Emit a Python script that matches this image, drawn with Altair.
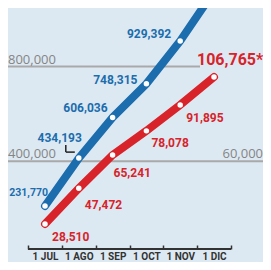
import altair as alt
import pandas as pd

# ---- data ----
months = ["1 JUL", "1 AGO", "1 SEP", "1 OCT", "1 NOV", "1 DIC"]
blue_values = [231770, 434193, 606036, 748315, 929392, 1140000]
blue_labels = ["231,770", "434,193", "606,036", "748,315", "929,392", ""]
red_values = [28510, 47472, 65241, 78078, 91895, 106765]
red_labels = ["28,510", "47,472", "65,241", "78,078", "91,895", "106,765*"]
grid_values = [800000, 400000]
grid_labels = ["800,000", "400,000"]
grid_right_label = "60,000"

BLUE = "#1b6dad"
RED = "#d8232a"
BG = "#dde9f2"
GRID = "#a9a9a9"
DARK = "#333333"
FONT = "Roboto, Liberation Sans, sans-serif"
GFONT = "Open Sans, DejaVu Sans, sans-serif"

W, H = 255, 254
xs = alt.Scale(domain=[-1.0947, 6.4497], nice=False, zero=False)
ysb = alt.Scale(domain=[-5074, 1068900], nice=False, zero=False)
ysr = alt.Scale(domain=[8253, 143504], nice=False, zero=False)

n = len(months)
df_blue = pd.DataFrame({"i": list(range(n)), "v": blue_values, "lab": blue_labels})
df_red = pd.DataFrame({"i": list(range(n)), "v": red_values, "lab": red_labels})
df_grid = pd.DataFrame({"v": grid_values, "lab": grid_labels})

tick_vals = sorted([i - 0.5 for i in range(n + 1)] + list(range(n)))
month_arr = "[" + ",".join("'" + m + "'" for m in months) + "]"
x_axis = alt.Axis(
    values=tick_vals, domain=False, grid=False, title=None,
    tickSize=4, tickWidth=1.5, tickColor=DARK,
    tickOpacity={"condition": {"test": "datum.value % 1 !== 0", "value": 1}, "value": 0},
    labelExpr="datum.value % 1 === 0 ? " + month_arr + "[datum.value] : ''",
    labelFont=FONT, labelFontSize=10, labelFontWeight="bold", labelColor=DARK,
    labelPadding=2, labelBaseline="top", labelOverlap=False, labelFlush=False,
    offset=-17,
)


def X():
    return alt.X("i:Q", scale=xs, axis=x_axis)


# gridlines (blue scale)
grid800 = alt.Chart(df_grid.iloc[[0]]).mark_rule(color=GRID, strokeWidth=2, yOffset=-5).encode(
    y=alt.Y("v:Q", scale=ysb, axis=None), x=alt.value(0), x2=alt.value(192))
grid400 = alt.Chart(df_grid.iloc[[1]]).mark_rule(color=GRID, strokeWidth=2, yOffset=-5).encode(
    y=alt.Y("v:Q", scale=ysb, axis=None), x=alt.value(0), x2=alt.value(255))
grid_text = alt.Chart(df_grid).mark_text(
    font=GFONT, fontSize=13, color="#858585", align="left", baseline="alphabetic", dy=-8, dx=0
).encode(y=alt.Y("v:Q", scale=ysb, axis=None), x=alt.value(0), text="lab:N")
grid_text_r = alt.Chart(df_grid.iloc[[1]]).mark_text(
    font=GFONT, fontSize=13, color="#858585", align="right", baseline="alphabetic", dy=-8
).encode(y=alt.Y("v:Q", scale=ysb, axis=None), x=alt.value(255), text=alt.value(grid_right_label))

blue_line = alt.Chart(df_blue).mark_line(color=BLUE, strokeWidth=8, strokeCap="round", clip=True).encode(
    x=X(), y=alt.Y("v:Q", scale=ysb, axis=None))
blue_pts = alt.Chart(df_blue).mark_point(filled=True, color="white", opacity=1, size=30, clip=True).encode(
    x=X(), y=alt.Y("v:Q", scale=ysb, axis=None))

blue_off = [(3, -10, 10.5), (3, -16, 12), (-5, -5, 12), (-9, 0, 12), (-9, -3, 12)]
blue_texts = []
for k, (dx, dy, fs) in enumerate(blue_off):
    blue_texts.append(
        alt.Chart(df_blue).transform_filter(alt.datum.i == k).mark_text(
            font=FONT, fontSize=fs, fontWeight="bold", color=BLUE, align="right",
            baseline="alphabetic", dx=dx, dy=dy
        ).encode(x=X(), y=alt.Y("v:Q", scale=ysb, axis=None), text="lab:N"))

# small leader for 434,193
lead_v = alt.Chart(df_blue).transform_filter(alt.datum.i == 1).mark_rule(
    color="#222222", strokeWidth=1.5, xOffset=-13, yOffset=-13, y2Offset=-6).encode(
    x=X(), y=alt.Y("v:Q", scale=ysb, axis=None), y2="v:Q")
lead_h = alt.Chart(df_blue).transform_filter(alt.datum.i == 1).mark_rule(
    color="#222222", strokeWidth=1.5, xOffset=-13, x2Offset=-4, yOffset=-6).encode(
    x=X(), x2="i:Q", y=alt.Y("v:Q", scale=ysb, axis=None))

blue_layer = alt.layer(grid800, grid400, grid_text, grid_text_r, blue_line, blue_pts, lead_v, lead_h, *blue_texts)

red_line = alt.Chart(df_red).mark_line(color=RED, strokeWidth=8, strokeCap="round", clip=True).encode(
    x=X(), y=alt.Y("v:Q", scale=ysr, axis=None))
red_pts = alt.Chart(df_red).mark_point(filled=True, color="white", opacity=1, size=30, clip=True).encode(
    x=X(), y=alt.Y("v:Q", scale=ysr, axis=None))
red_off = [(7, 17), (6, 21), (1, 22), (5, 16), (6, 17)]
red_texts = []
for k, (dx, dy) in enumerate(red_off):
    red_texts.append(
        alt.Chart(df_red).transform_filter(alt.datum.i == k).mark_text(
            font=FONT, fontSize=12, fontWeight="bold", color=RED, align="left",
            baseline="alphabetic", dx=dx, dy=dy
        ).encode(x=X(), y=alt.Y("v:Q", scale=ysr, axis=None), text="lab:N"))
red_big = alt.Chart(df_red).transform_filter(alt.datum.i == n - 1).mark_text(
    font=FONT, fontSize=16, fontWeight="bold", color=RED, align="left",
    baseline="alphabetic", dx=-17, dy=-12
).encode(x=X(), y=alt.Y("v:Q", scale=ysr, axis=None), text="lab:N")

red_layer = alt.layer(red_line, red_pts, *red_texts, red_big)

baseline = alt.Chart(df_blue).mark_rule(color=DARK, strokeWidth=1.5).encode(
    x=alt.XDatum(-0.5, scale=xs, axis=x_axis), x2=alt.X2Datum(n - 0.5), y=alt.value(241))

chart = alt.layer(blue_layer, red_layer, baseline).resolve_scale(y="independent").properties(
    width=W, height=H, autosize=alt.AutoSizeParams(type="none"), padding=0,
    background=BG,
).configure_view(stroke=None)

chart.save("out.html", embed_options={"renderer": "svg", "actions": False})
